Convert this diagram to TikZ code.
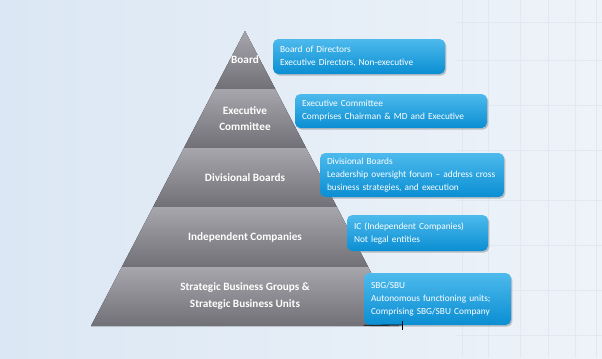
\documentclass[tikz,border=0pt]{standalone}
\usepackage{fontspec}
\setmainfont{Carlito}
\usepackage{tikz}
\usetikzlibrary{shadows, positioning}
\definecolor{BoxTop} {HTML}{4DBAEC}
\definecolor{BoxBot} {HTML}{0A8ED3}
\definecolor{BandTop}{HTML}{A6A6AC}
\definecolor{BandBot}{HTML}{707076}
\definecolor{BgLeft} {HTML}{DBE7F4}
\definecolor{BgMid}  {HTML}{F8FAFD}
\definecolor{BgRight}{HTML}{EEF3F9}
\definecolor{BgLine} {HTML}{E1E8F1}
\tikzset{
  band/.style={top color=BandTop, bottom color=BandBot, draw=none},
  lvl/.style={align=center, text=white, font=\fontsize{8.4}{12}\selectfont\bfseries},
  info/.style={rounded corners=4pt, top color=BoxTop, bottom color=BoxBot, text=white,
               align=left, anchor=center, inner xsep=5.25pt, inner ysep=1pt,
               font=\fontsize{7}{9.75}\selectfont,
               drop shadow={opacity=0.45, shadow xshift=1pt, shadow yshift=-1.2pt}}
}

\begin{document}
\begin{tikzpicture}[x=0.75pt, y=-0.75pt]
  \useasboundingbox (0,0) rectangle (602,358);
  % background
  \fill[left color=BgLeft, middle color=BgMid, right color=BgRight] (0,0) rectangle (602,358);
  \foreach \gx in {462,488,520,548,575,596}
    \draw[BgLine, line width=0.6pt] (\gx,0) -- (\gx,358);
  \foreach \gy in {22,60,105,150,200,245,290,335}
    \draw[BgLine, line width=0.4pt] (455,\gy) -- (602,\gy);

  % pyramid
  \fill[band] (245,31) -- (275.3,89) -- (214.7,89) -- cycle;
  \fill[band] (214.7,89) -- (275.3,89) -- (306.1,148) -- (183.9,148) -- cycle;
  \fill[band] (183.9,148) -- (306.1,148) -- (336.9,207) -- (153.1,207) -- cycle;
  \fill[band] (153.1,207) -- (336.9,207) -- (368.2,267) -- (121.8,267) -- cycle;
  \fill[band] (121.8,267) -- (368.2,267) -- (399,326) -- (91,326) -- cycle;

  \node[lvl] (board) at (245,60) {Board};
  \node[lvl] (exec)  at (245,118.5) {Executive\\Committee};
  \node[lvl] (div)   at (245,177.5) {Divisional Boards};
  \node[lvl] (ic)    at (245,237) {Independent Companies};
  \node[lvl, font=\fontsize{8.4}{12.75}\selectfont\bfseries] (sbg) at (245,296.5)
    {Strategic Business Groups \&\\Strategic Business Units};

  % info boxes
  \node[info, text width=118.5pt, minimum height=26.25pt] (boardBox) at (359,56.5)
    {Board of Directors\\Executive Directors, Non-executive};
  \node[info, text width=133.5pt, minimum height=25.5pt] (execBox) at (391,111)
    {Executive Committee\\Comprises Chairman \& MD and Executive};
  \node[info, text width=127.5pt, minimum height=33pt] (divBox) at (412,175)
    {Divisional Boards\\Leadership oversight forum – address cross\\business strategies, and execution};
  \node[info, text width=95.25pt, minimum height=27pt] (icBox) at (417.5,233)
    {IC (Independent Companies)\\Not legal entities};
  \node[info, text width=99.75pt, minimum height=39pt] (sbgBox) at (437.5,299)
    {SBG/SBU\\Autonomous functioning units;\\Comprising SBG/SBU Company};

  \coordinate (tick) at (402,325);
  \draw[black, line width=0.6pt] (sbgBox.south west) -- (tick);
  \draw[black, line width=0.6pt] (tick) ++(0,-4) -- ++(0,9);
\end{tikzpicture}
\end{document}
